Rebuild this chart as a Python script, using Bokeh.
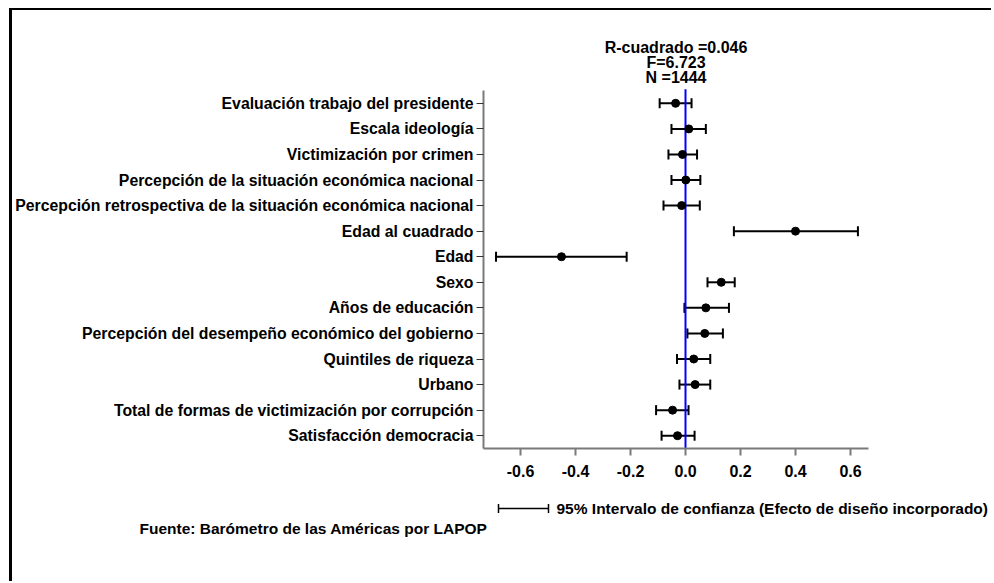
from bokeh.plotting import figure
from bokeh.models import (ColumnDataSource, Range1d, FixedTicker,
                          Whisker, TeeHead, NumeralTickFormatter)
from bokeh.core.properties import value
from bokeh.embed import file_html
from bokeh.resources import INLINE

# ---- data ----
labels = [
    "Evaluación trabajo del presidente",
    "Escala ideología",
    "Victimización por crimen",
    "Percepción de la situación económica nacional",
    "Percepción retrospectiva de la situación económica nacional",
    "Edad al cuadrado",
    "Edad",
    "Sexo",
    "Años de educación",
    "Percepción del desempeño económico del gobierno",
    "Quintiles de riqueza",
    "Urbano",
    "Total de formas de victimización por corrupción",
    "Satisfacción democracia",
]
coef = [-0.036, 0.012, -0.011, 0.001, -0.014, 0.400, -0.451, 0.130, 0.074, 0.070, 0.030, 0.035, -0.047, -0.029]
lo = [-0.094, -0.051, -0.062, -0.051, -0.080, 0.176, -0.689, 0.080, -0.004, 0.007, -0.031, -0.022, -0.107, -0.087]
hi = [0.022, 0.074, 0.042, 0.054, 0.052, 0.627, -0.214, 0.179, 0.158, 0.136, 0.090, 0.090, 0.011, 0.033]
x_ticks = [-0.6, -0.4, -0.2, 0.0, 0.2, 0.4, 0.6]
x_bounds = (-0.7345, 0.6655)
stats = ["R-cuadrado =0.046", "F=6.723", "N =1444"]
legend_text = "95% Intervalo de confianza (Efecto de diseño incorporado)"
source_text = "Fuente: Barómetro de las Américas por LAPOP"

n = len(labels)
ypos = [n - i for i in range(n)]  # first label at top
y_bounds = (0.5, n + 0.5)

FONT = "Liberation Sans"
FS = "16px"

# page layout: canvas starts at page (12, 10) after margin + border
OX, OY = 12, 10
W, H = 994 - OX, 583 - OY
PX_PER_X = 275.0      # pixels per unit on x
PX_PER_Y = 25.57      # pixels per category
X0_PAGE = 685.0       # page x of value 0
YB_PAGE = 448.0       # page y of the x axis


def dx(px):
    return (px - X0_PAGE) / PX_PER_X


def dy(py):
    return y_bounds[0] + (YB_PAGE - py) / PX_PER_Y


p = figure(width=W, height=H, output_backend="svg", toolbar_location=None,
           x_range=Range1d(dx(OX), dx(OX + W)), y_range=Range1d(dy(OY + H), dy(OY)),
           min_border=0)
p.styles = {"margin-left": "9px", "margin-top": "8px",
            "border-left": "3px solid black", "border-top": "2px solid black"}
p.outline_line_color = None
p.xgrid.visible = False
p.ygrid.visible = False

src = ColumnDataSource(dict(y=ypos, coef=coef, lo=lo, hi=hi))

# zero reference line spanning the category axis
p.segment(x0=[0], x1=[0], y0=[y_bounds[0]], y1=[y_bounds[1] + 0.05], line_color="#0000ff", line_width=2)

# confidence intervals
wh = Whisker(source=src, base="y", lower="lo", upper="hi", dimension="width",
             line_color="black", line_width=2,
             lower_head=TeeHead(size=10, line_width=2, line_color="black"),
             upper_head=TeeHead(size=10, line_width=2, line_color="black"))
p.add_layout(wh)
p.scatter("coef", "y", source=src, size=8, color="black")

# axes drawn at fixed data locations
axis_color = "#7a7a7a"
p.yaxis.fixed_location = x_bounds[0]
p.yaxis.bounds = y_bounds
p.yaxis.ticker = FixedTicker(ticks=ypos)
p.yaxis.major_label_overrides = {y: lab for y, lab in zip(ypos, labels)}
p.yaxis.minor_tick_line_color = None
p.yaxis.major_tick_in = 0
p.yaxis.major_tick_out = 7
p.yaxis.major_label_standoff = 3
p.yaxis.axis_line_color = axis_color
p.yaxis.axis_line_width = 2
p.yaxis.major_tick_line_color = "#333333"
p.yaxis.major_label_text_font = FONT
p.yaxis.major_label_text_font_style = "bold"
p.yaxis.major_label_text_font_size = "15.8px"
p.yaxis.major_label_text_color = "black"

p.xaxis.fixed_location = y_bounds[0]
p.xaxis.bounds = x_bounds
p.xaxis.ticker = FixedTicker(ticks=x_ticks)
p.xaxis.formatter = NumeralTickFormatter(format="0.0")
p.xaxis.minor_tick_line_color = None
p.xaxis.major_tick_in = 0
p.xaxis.major_tick_out = 7
p.xaxis.major_label_standoff = 9
p.xaxis.axis_line_color = axis_color
p.xaxis.axis_line_width = 2
p.xaxis.major_tick_line_color = axis_color
p.xaxis.major_tick_line_width = 2
p.xaxis.major_label_text_font = FONT
p.xaxis.major_label_text_font_style = "bold"
p.xaxis.major_label_text_font_size = FS
p.xaxis.major_label_text_color = "black"

# statistics text, centred over the plotting area
xc = (x_bounds[0] + x_bounds[1]) / 2
p.text(x=[xc] * 3, y=[dy(46.5), dy(61.5), dy(76.5)], text=stats, text_align="center",
       text_baseline="middle", text_font=value(FONT), text_font_style="bold",
       text_font_size=FS, text_color="black")

# legend for the confidence interval
ly = dy(508)
cap = 4.5 / PX_PER_Y
lx0, lx1 = dx(498), dx(548)
p.segment(x0=[lx0], x1=[lx1], y0=[ly], y1=[ly], line_color="black", line_width=1.5)
p.segment(x0=[lx0, lx1], x1=[lx0, lx1], y0=[ly - cap] * 2, y1=[ly + cap] * 2,
          line_color="black", line_width=1.5)
p.text(x=[dx(556)], y=[ly], text=[legend_text], text_align="left", text_baseline="middle",
       text_font=value(FONT), text_font_style="bold", text_font_size="15.5px", text_color="black")

# source note
p.text(x=[dx(139)], y=[dy(528)], text=[source_text], text_align="left", text_baseline="middle",
       text_font=value(FONT), text_font_style="bold", text_font_size="15.5px", text_color="black")

open("out.html", "w").write(file_html(p, INLINE))
